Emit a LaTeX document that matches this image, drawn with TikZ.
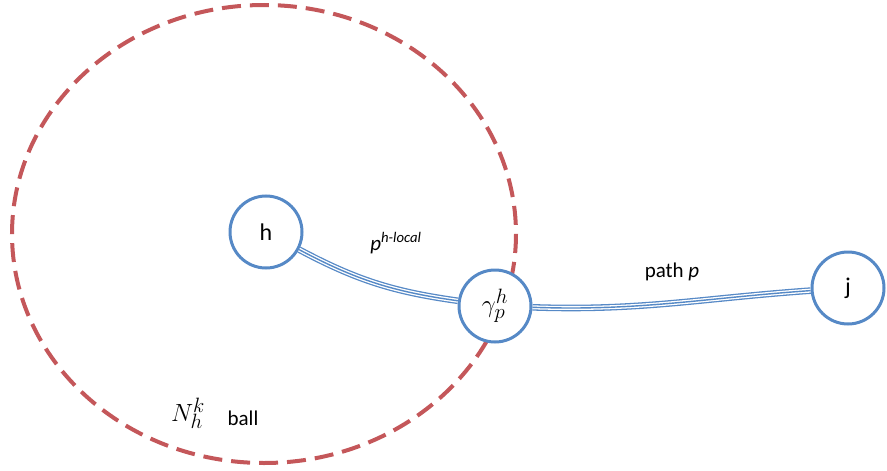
\documentclass[tikz,border=0pt]{standalone}
\usepackage{fontspec}
\setmainfont{Carlito}
\usetikzlibrary{positioning}
\definecolor{nbBlue}{HTML}{5689C6}
\definecolor{nbRed}{HTML}{C4575A}

\begin{document}
\begin{tikzpicture}[x=1pt, y=-1pt,
    vertex/.style={circle, draw=nbBlue, line width=3pt, fill=white,
                   minimum size=72pt, inner sep=0pt,
                   font=\fontsize{24}{28}\selectfont},
    triple/.style={draw=nbBlue, line width=6.6pt,
                   postaction={draw=white, line width=4pt},
                   postaction={draw=nbBlue, line width=1.4pt}},
    lbl/.style={font=\fontsize{21}{24}\selectfont, inner sep=0pt}]
  \useasboundingbox (0,0) rectangle (887,471);

  % the k-ball round h
  \draw[nbRed, line width=4pt, dash pattern=on 19pt off 9pt]
    (264,234) ellipse [x radius=252, y radius=229];

  \node[vertex] (h) at (266,232) {h};
  \node[vertex, font=\fontsize{30}{34}\selectfont] (gam) at (495,306) {$\gamma^h_p$};
  \node[vertex] (j) at (848,288) {j};

  \draw[triple] (h) to[out=-28, in=172] (gam);
  \draw[triple] (gam) to[out=-2, in=184] (j);

  \node[lbl] (plocal) at (396,243) {\textit{p}\textsuperscript{\itshape h-local}};
  \node[lbl] (pathp) at (672,272) {path \textit{p}};
  \node[font=\fontsize{28}{32}\selectfont, inner sep=0pt] (nhk) at (188,413) {$N_h^k$};
  \node[lbl] (ball) at (243,418) {ball};
\end{tikzpicture}
\end{document}
